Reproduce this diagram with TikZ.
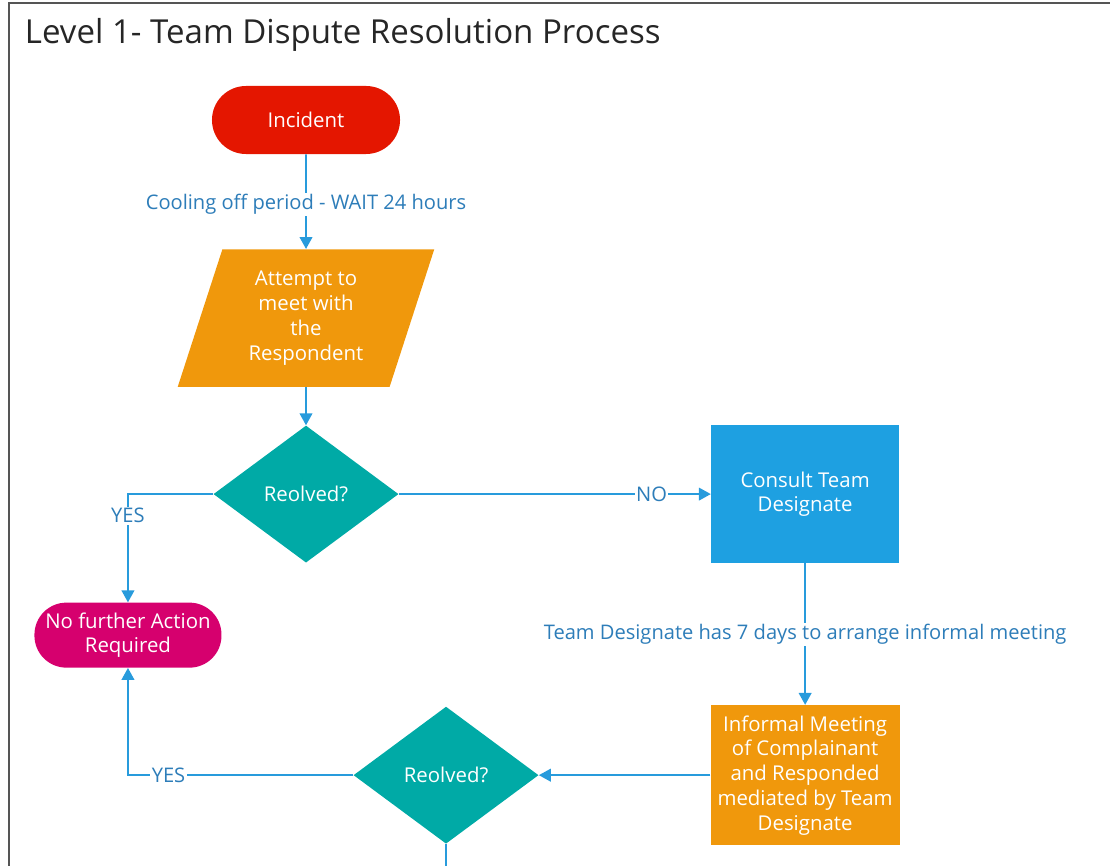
\documentclass[tikz,border=0pt]{standalone}
\usepackage{fontspec}
\setmainfont{Open Sans}
\usetikzlibrary{arrows.meta,shapes.geometric,positioning}

\definecolor{incred}{RGB}{228,22,0}
\definecolor{steporange}{RGB}{240,152,12}
\definecolor{decteal}{RGB}{0,170,166}
\definecolor{boxblue}{RGB}{30,160,225}
\definecolor{endpink}{RGB}{214,0,110}
\definecolor{lineblue}{RGB}{40,155,220}
\definecolor{labelblue}{RGB}{45,125,185}
\definecolor{framegray}{RGB}{85,85,85}

\begin{document}
\begin{tikzpicture}[x=0.025cm,y=-0.025cm,>={Triangle[length=8.5pt,width=9pt]},
  line/.style={color=lineblue,line width=1.3pt},
  box font/.style={font=\fontsize{14.5}{17.6}\selectfont,text=white,align=center},
  start node/.style={rectangle,rounded corners=0.85cm,fill=incred,box font,
    minimum width=4.7cm,minimum height=1.7cm},
  end node/.style={rectangle,rounded corners=0.8cm,fill=endpink,box font,
    minimum width=4.675cm,minimum height=1.625cm,inner sep=1pt},
  io node/.style={trapezium,trapezium left angle=72,trapezium right angle=108,
    fill=steporange,box font,minimum width=6.425cm,minimum height=3.2cm,inner sep=1pt},
  dec node/.style={diamond,fill=decteal,box font,inner sep=0pt,
    minimum width=4.625cm,minimum height=3.425cm},
  proc node/.style={rectangle,box font,inner sep=1pt,minimum width=4.7cm,minimum height=3.45cm},
  lbl/.style={fill=white,text=labelblue,font=\fontsize{14.3}{17}\selectfont,inner sep=1pt}]

  \useasboundingbox (0,0) rectangle (1110,866);
  \draw[framegray,line width=1.5pt] (1110,3) -- (9,3) -- (9,866);

  \node[anchor=west,text=black!85,font=\fontsize{23.5}{28}\selectfont] (title) at (20,35) {Level 1- Team Dispute Resolution Process};

  \node[start node] (inc) at (306,120) {Incident};
  \node[io node] (att) [below of=inc,node distance=4.95cm] {Attempt to\\meet with\\the\\Respondent};
  \node[dec node] (dec1) [below of=att,node distance=4.4cm] {Reolved?};
  \node[proc node,fill=boxblue] (consult) [right of=dec1,node distance=12.475cm] {Consult Team\\Designate};
  \node[proc node,fill=steporange,minimum width=4.725cm,minimum height=3.5cm] (info) [below of=consult,node distance=7.025cm]
    {Informal Meeting\\of Complainant\\and Responded\\mediated by Team\\Designate};
  \node[dec node] (dec2) [left of=info,node distance=8.975cm] {Reolved?};
  \node[end node] (nfa) [left of=dec1,node distance=4.45cm,yshift=-3.525cm] {No further Action\\Required};
  \coordinate (exit) at (dec2.south |- 0,866);

  \path[line,->]
    (inc) edge node[lbl,pos=0.53] {Cooling off period - WAIT 24 hours} (att)
    (att) edge (dec1)
    (dec1) edge node[lbl,pos=0.81] {NO} (consult)
    (consult) edge node[lbl] {Team Designate has 7 days to arrange informal meeting} (info)
    (info) edge (dec2);
  \draw[line,->] (dec1.west) -| node[lbl,pos=0.6] {YES} (nfa.north);
  \draw[line,->] (dec2.west) -| node[lbl,pos=0.41] {YES} (nfa.south);
  \draw[line] (dec2.south) -- (exit);

\end{tikzpicture}
\end{document}
